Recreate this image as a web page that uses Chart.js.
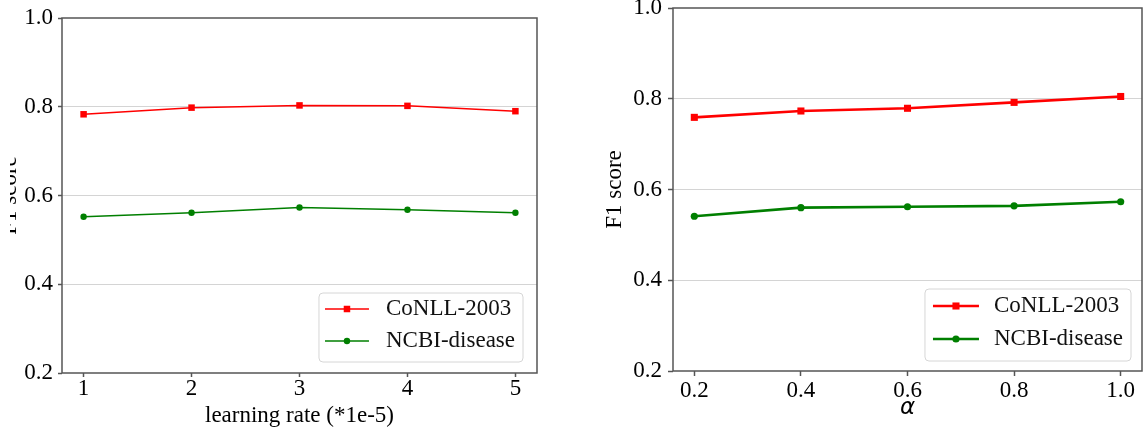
<!DOCTYPE html>
<html>
<head>
<meta charset="utf-8">
<script src="https://cdn.jsdelivr.net/npm/chart.js@4.4.0/dist/chart.umd.min.js"></script>
<style>
  body { margin: 0; width: 1147px; height: 428px; overflow: hidden; background: #fff; position: relative; }
  #leftWrap { position: absolute; left: 10px; top: 0; width: 570px; height: 428px; overflow: hidden; }
  #chartLr { position: absolute; left: -18px; top: 0; }
  #chartAlpha { position: absolute; left: 597px; top: 0; }
</style>
</head>
<body>
<div id="leftWrap"><canvas id="chartLr" width="580" height="428"></canvas></div>
<canvas id="chartAlpha" width="550" height="428"></canvas>
<script>
const lrSteps = [1, 2, 3, 4, 5];
const lrConll = [0.783, 0.798, 0.803, 0.802, 0.790];
const lrNcbi = [0.552, 0.561, 0.573, 0.568, 0.561];

const alphaSteps = [0.2, 0.4, 0.6, 0.8, 1.0];
const alphaConll = [0.759, 0.773, 0.779, 0.792, 0.805];
const alphaNcbi = [0.541, 0.560, 0.562, 0.564, 0.573];

const f1Ticks = [0.2, 0.4, 0.6, 0.8, 1.0];

const SERIF = 'Liberation Serif';

// axes box on all four sides, like matplotlib spines
const frame = {
  id: 'frame',
  afterDatasetsDraw(chart) {
    const a = chart.chartArea, ctx = chart.ctx;
    ctx.save();
    ctx.strokeStyle = '#555';
    ctx.lineWidth = 1.5;
    ctx.strokeRect(a.left, a.top, a.right - a.left, a.bottom - a.top);
    ctx.restore();
  }
};

// legend drawn inside the plot, bottom right
const boxLegend = {
  id: 'boxLegend',
  afterDraw(chart, args, o) {
    const ctx = chart.ctx, a = chart.chartArea;
    const sets = chart.data.datasets;
    ctx.save();
    ctx.font = o.fontSize + 'px "' + SERIF + '"';
    const textW = Math.max(...sets.map(d => ctx.measureText(d.label).width));
    const w = o.padLeft + o.lineLen + o.gap + textW + o.padRight;
    const x = a.right - o.right - w;
    const y = a.bottom - o.bottom - o.height;

    ctx.beginPath();
    ctx.roundRect(x, y, w, o.height, 4);
    ctx.fillStyle = 'rgba(255,255,255,0.8)';
    ctx.fill();
    ctx.strokeStyle = '#d6d6d6';
    ctx.lineWidth = 1;
    ctx.stroke();

    sets.forEach((d, i) => {
      const cy = y + o.rowTop + o.rowH * i;
      const x0 = x + o.padLeft, x1 = x0 + o.lineLen, cx = (x0 + x1) / 2;
      ctx.beginPath();
      ctx.moveTo(x0, cy);
      ctx.lineTo(x1, cy);
      ctx.strokeStyle = d.borderColor;
      ctx.lineWidth = d.borderWidth;
      ctx.stroke();
      ctx.fillStyle = d.backgroundColor;
      ctx.beginPath();
      if (d.pointStyle === 'rect') {
        const s = d.pointRadius * Math.SQRT1_2;
        ctx.rect(cx - s, cy - s, 2 * s, 2 * s);
      } else {
        ctx.arc(cx, cy, d.pointRadius, 0, Math.PI * 2);
      }
      ctx.fill();
      ctx.fillStyle = '#111';
      ctx.textAlign = 'left';
      ctx.textBaseline = 'middle';
      ctx.fillText(d.label, x1 + o.gap, cy);
    });
    ctx.restore();
  }
};

function points(xs, ys) {
  return xs.map((x, i) => ({ x: x, y: ys[i] }));
}

function series(label, xs, ys, color, style, radius, width) {
  return {
    label: label,
    data: points(xs, ys),
    borderColor: color,
    backgroundColor: color,
    borderWidth: width,
    pointStyle: style,
    pointRadius: radius,
    pointBorderWidth: 0,
    tension: 0
  };
}

function options(o) {
  return {
    responsive: false,
    animation: false,
    layout: { padding: { top: o.top, right: o.right, left: 0, bottom: 0 } },
    plugins: {
      legend: { display: false },
      tooltip: { enabled: false },
      boxLegend: o.legend
    },
    scales: {
      x: {
        type: 'linear',
        min: o.xMin,
        max: o.xMax,
        afterBuildTicks: s => { s.ticks = o.xTicks.map(v => ({ value: v })); },
        afterFit: s => { s.height = o.xHeight; },
        border: { display: false },
        grid: { drawOnChartArea: false, tickLength: o.tickLen, tickColor: '#555', tickWidth: 1.5 },
        ticks: {
          padding: o.xTickPad,
          color: '#000',
          font: { family: SERIF, size: 23, lineHeight: 1 },
          callback: o.xFormat
        },
        title: {
          display: true,
          text: o.xTitle,
          color: '#000',
          font: o.xTitleFont,
          padding: { top: 0, bottom: o.xTitlePad }
        }
      },
      y: {
        min: 0.2,
        max: 1.0,
        afterBuildTicks: s => { s.ticks = f1Ticks.map(v => ({ value: v })); },
        afterFit: s => { s.width = o.yWidth; },
        border: { display: false },
        grid: {
          color: c => (c.tick && (c.tick.value === 0.2 || c.tick.value === 1.0)) ? 'rgba(0,0,0,0)' : '#d4d4d4',
          lineWidth: 1,
          tickLength: o.tickLen,
          tickColor: '#555',
          tickWidth: 1.5
        },
        ticks: {
          padding: o.yTickPad,
          color: '#000',
          font: { family: SERIF, size: 23, lineHeight: 0.1 },
          callback: v => v.toFixed(1)
        },
        title: {
          display: true,
          text: 'F1 score',
          color: '#000',
          font: { family: SERIF, size: 23 },
          padding: { top: 4, bottom: 4 }
        }
      }
    }
  };
}

new Chart(document.getElementById('chartLr'), {
  type: 'line',
  data: {
    datasets: [
      series('CoNLL-2003', lrSteps, lrConll, '#ff0000', 'rect', 4.6, 1.5),
      series('NCBI-disease', lrSteps, lrNcbi, '#007f00', 'circle', 3.2, 1.5)
    ]
  },
  options: options({
    top: 18, right: 35, yWidth: 70, xHeight: 55, tickLen: 4,
    xMin: 0.8, xMax: 5.2, xTicks: lrSteps, xFormat: v => String(v),
    xTickPad: 0, yTickPad: 5,
    xTitle: 'learning rate (*1e-5)',
    xTitleFont: { family: SERIF, size: 23 },
    xTitlePad: -2,
    legend: { fontSize: 23, right: 14, bottom: 11, height: 69, rowTop: 16, rowH: 32, padLeft: 6, lineLen: 44, gap: 17, padRight: 8 }
  }),
  plugins: [frame, boxLegend]
});

new Chart(document.getElementById('chartAlpha'), {
  type: 'line',
  data: {
    datasets: [
      series('CoNLL-2003', alphaSteps, alphaConll, '#ff0000', 'rect', 5, 2.6),
      series('NCBI-disease', alphaSteps, alphaNcbi, '#007f00', 'circle', 3.6, 2.6)
    ]
  },
  options: options({
    top: 8, right: 1, yWidth: 76, xHeight: 57, tickLen: 5,
    xMin: 0.16, xMax: 1.04, xTicks: alphaSteps, xFormat: v => v.toFixed(1),
    xTickPad: 3, yTickPad: 6,
    xTitle: 'α',
    xTitleFont: { family: 'DejaVu Sans', style: 'italic', size: 23 },
    xTitlePad: 6,
    legend: { fontSize: 23, right: 11, bottom: 10, height: 72, rowTop: 17, rowH: 33, padLeft: 8, lineLen: 46, gap: 15, padRight: 8 }
  }),
  plugins: [frame, boxLegend]
});
</script>
</body>
</html>
